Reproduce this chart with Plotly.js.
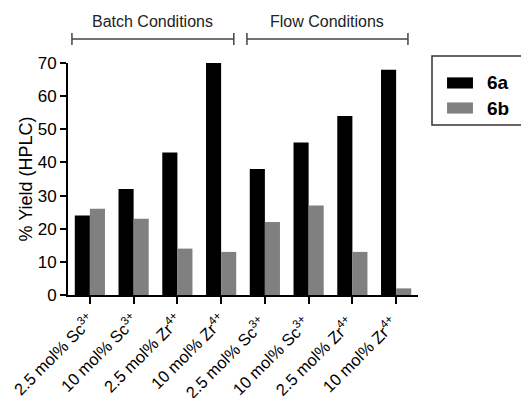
<!DOCTYPE html>
<html>
<head>
<meta charset="utf-8">
<script src="https://cdn.plot.ly/plotly-3.0.1.min.js"></script>
<style>html,body{margin:0;padding:0;background:#fff;}#chart{width:521px;height:398px;}</style>
</head>
<body>
<div id="chart"></div>
<script>
// Data
const categories = [
  "2.5 mol% Sc<sup>3+</sup>", "10 mol% Sc<sup>3+</sup>", "2.5 mol% Zr<sup>4+</sup>", "10 mol% Zr<sup>4+</sup>",
  "2.5 mol% Sc<sup>3+</sup> ", "10 mol% Sc<sup>3+</sup> ", "2.5 mol% Zr<sup>4+</sup> ", "10 mol% Zr<sup>4+</sup> "
];
const seriesNames = ["6a", "6b"];
const yield6a = [24, 32, 43, 70, 38, 46, 54, 68];
const yield6b = [26, 23, 14, 13, 22, 27, 13, 2];
const groupLabels = ["Batch Conditions", "Flow Conditions"];
const yTickVals = [0, 10, 20, 30, 40, 50, 60, 70];

const idx = categories.map((_, i) => i);
const colors = ["#000000", "#808080"];
const font = "Arial, 'Liberation Sans', sans-serif";

const traces = [
  {type: "bar", x: idx, y: yield6a, name: seriesNames[0], marker: {color: colors[0]}, showlegend: false},
  {type: "bar", x: idx, y: yield6b, name: seriesNames[1], marker: {color: colors[1]}, showlegend: false}
];

const shapes = [];
const annotations = [];
// group brackets
const brackets = [[-0.41, 3.29], [3.59, 7.27]];
brackets.forEach((b, i) => {
  const lc = {color: "#444", width: 1.5};
  shapes.push({type: "line", xref: "x", yref: "paper", x0: b[0], x1: b[1], y0: 1.103, y1: 1.103, line: lc});
  shapes.push({type: "line", xref: "x", yref: "paper", x0: b[0], x1: b[0], y0: 1.078, y1: 1.129, line: lc});
  shapes.push({type: "line", xref: "x", yref: "paper", x0: b[1], x1: b[1], y0: 1.078, y1: 1.129, line: lc});
  annotations.push({xref: "x", yref: "paper", x: (b[0] + b[1]) / 2, y: 1.177, text: groupLabels[i],
    showarrow: false, font: {family: font, size: 16, color: "#222"}, xanchor: "center", yanchor: "middle"});
});
// legend (drawn manually)
shapes.push({type: "rect", xref: "paper", yref: "paper", x0: 1.04, x1: 1.35, y0: 0.733, y1: 1.03,
  line: {color: "#333", width: 1.5}, fillcolor: "rgba(0,0,0,0)"});
seriesNames.forEach((n, i) => {
  const yc = i === 0 ? 0.914 : 0.806;
  shapes.push({type: "rect", xref: "paper", yref: "paper", x0: 1.083, x1: 1.157, y0: yc - 0.024, y1: yc + 0.024,
    line: {width: 0}, fillcolor: colors[i]});
  annotations.push({xref: "paper", yref: "paper", x: 1.19, y: yc, text: "<b>" + n + "</b>", showarrow: false,
    xanchor: "left", yanchor: "middle", font: {family: font, size: 19, color: "#000"}});
});

const layout = {
  width: 521, height: 398,
  margin: {l: 68, r: 103, t: 63, b: 103, autoexpand: false},
  paper_bgcolor: "#fff", plot_bgcolor: "#fff",
  barmode: "group", bargap: 0.31, bargroupgap: 0,
  font: {family: font, color: "#000"},
  xaxis: {
    range: [-0.5, 7.5], tickmode: "array", tickvals: idx, ticktext: categories,
    tickangle: -45, tickfont: {family: font, size: 16.5, color: "#000"},
    showline: true, linecolor: "#000", linewidth: 2, ticks: "outside", ticklen: 7, tickwidth: 2, tickcolor: "#000",
    showgrid: false, zeroline: false, fixedrange: true
  },
  yaxis: {
    range: [0, 70], tickmode: "array", tickvals: yTickVals,
    tickfont: {family: font, size: 17, color: "#000"},
    showline: true, linecolor: "#000", linewidth: 2, ticks: "outside", ticklen: 6, tickwidth: 2, tickcolor: "#000",
    showgrid: false, zeroline: false, fixedrange: true,
    title: {text: "% Yield (HPLC)", font: {family: font, size: 18, color: "#000"}, standoff: 0}
  },
  shapes: shapes, annotations: annotations, showlegend: false
};

Plotly.newPlot("chart", traces, layout, {displayModeBar: false, staticPlot: true});
</script>
</body>
</html>
